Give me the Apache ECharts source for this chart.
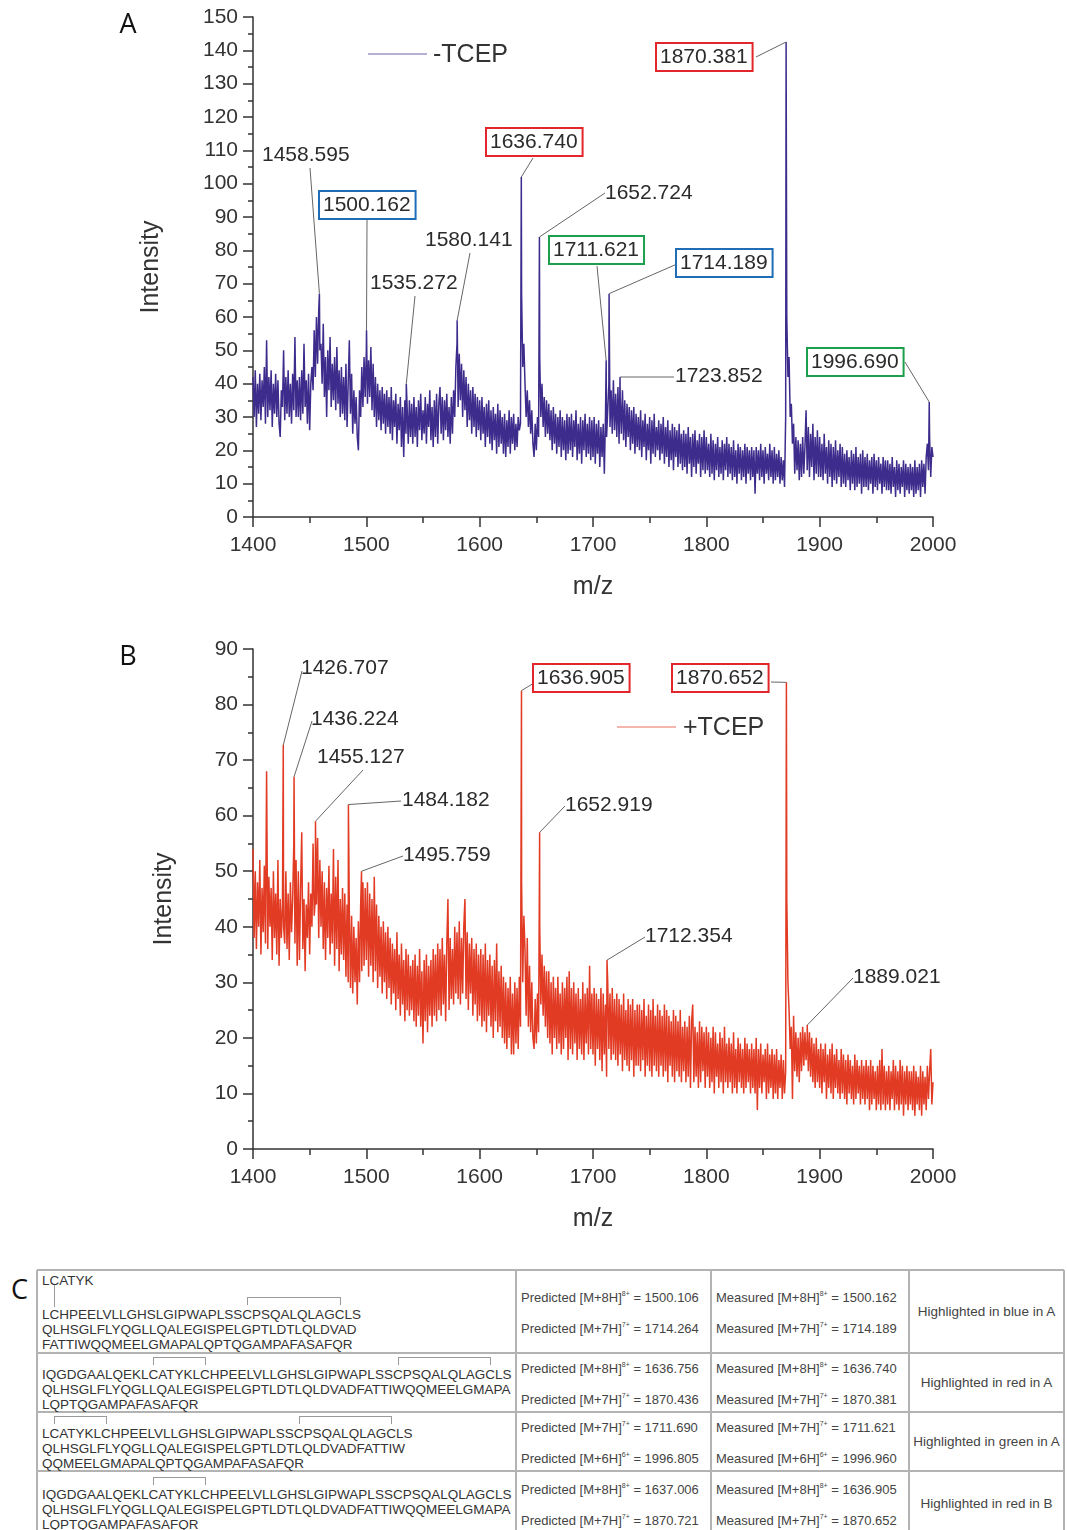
<!DOCTYPE html>
<html>
<head>
<meta charset="utf-8">
<script src="https://cdn.jsdelivr.net/npm/echarts@6.0.0/dist/echarts.min.js"></script>
<style>
  html, body { margin: 0; padding: 0; background: #fff; }
  body { width: 1067px; height: 1530px; position: relative; overflow: hidden;
         font-family: "Liberation Sans", Arial, sans-serif; }
  #chart { position: absolute; left: 0; top: 0; width: 1067px; height: 1260px; }
  .tline { position: absolute; white-space: nowrap; font-size: 13.5px; line-height: 15px; color: #333; }
  .hl { position: absolute; background: #b3b3b3; }
  .br { position: absolute; border: 1px solid #9a9a9a; border-bottom: none; box-sizing: border-box; }
  .lk { position: absolute; border-left: 1px solid #9a9a9a; width: 0; }
  .sup { font-size: 7px; position: relative; top: -6px; }
  .note { position: absolute; text-align: center; font-size: 13.5px; line-height: 15px; color: #333; }
  #labelC { position: absolute; left: 11px; top: 1270px; font-family: "Open Sans", sans-serif; font-size: 27px; color: #111; }
</style>
</head>
<body>
<div id="chart"></div>
<div id="labelC">C</div>
<div id="tableC"></div>
<script>
// ===================== DATA =====================
const MZ_START = 1400;
const MZ_STEP = 1;

// Panel A (-TCEP) trace, one row = 20 m/z
const intensityA = [
  42,30,44,27,40,31,43,29,41,33,45,28,53,30,42,32,44,27,40,31,
  43,30,41,28,24,38,33,50,29,42,31,44,30,40,28,43,32,54,30,41,
  30,42,29,44,31,52,33,41,28,43,26,40,45,38,56,42,60,46,62,50,
  52,40,58,36,48,30,50,38,54,33,46,35,48,32,51,34,44,30,45,31,
  42,29,46,27,40,53,31,43,25,38,28,36,24,20,38,30,45,33,48,36,
  50,34,47,36,51,32,46,30,42,27,40,29,38,26,39,28,37,25,38,27,
  36,25,39,23,35,27,37,22,34,26,36,21,33,18,35,25,33,22,35,24,
  34,22,36,24,33,21,35,26,37,23,32,25,36,22,34,27,38,23,33,21,
  35,24,37,22,34,39,25,36,23,35,26,37,24,33,22,36,25,38,30,45,
  52,33,49,35,46,30,44,32,42,27,40,29,38,25,39,27,37,24,36,26,
  35,23,36,25,33,21,34,24,35,22,32,20,33,23,31,19,34,21,32,22,
  30,19,31,18,29,21,32,19,30,22,31,20,28,21,30,26,28,67,45,52,
  40,30,38,27,35,25,32,22,18,28,20,30,24,48,30,40,27,36,24,35,
  25,34,23,32,20,33,22,31,19,30,21,32,18,30,20,29,17,31,19,30,
  20,31,18,29,21,32,17,28,19,30,16,29,20,31,18,28,19,30,17,29,
  18,30,16,28,19,29,15,27,18,28,13,30,24,32,40,27,38,25,41,26,
  37,24,39,22,36,25,38,23,35,21,34,24,33,20,32,22,33,19,31,21,
  30,20,32,18,29,21,31,17,28,20,30,16,29,19,31,18,27,20,29,17,
  28,19,30,16,27,18,29,15,26,17,28,14,27,18,26,15,28,16,25,14,
  26,15,25,13,27,16,24,12,25,15,26,13,23,16,25,12,24,14,26,13,
  24,14,22,12,25,13,23,11,22,14,24,12,21,13,23,11,22,14,24,12,
  22,13,21,11,23,12,20,10,22,13,21,11,20,12,22,10,21,13,20,11,
  21,12,20,7,21,13,20,11,22,12,20,10,21,13,19,11,22,12,20,10,
  21,11,19,12,20,10,18,11,17,9,30,60,42,48,30,34,22,28,13,24,
  14,23,11,22,12,24,13,21,32,14,27,12,25,15,28,11,24,13,26,12,
  24,12,22,11,25,13,21,10,23,12,22,9,21,11,23,10,20,12,22,9,
  21,10,19,9,20,11,18,8,20,10,19,8,21,9,18,10,19,7,20,9,
  18,9,19,8,17,10,18,7,19,9,17,8,18,10,16,7,18,9,17,8,
  17,8,16,7,18,9,15,6,17,8,16,7,15,9,17,6,16,8,15,7,
  16,8,15,6,17,7,15,8,16,6,17,9,16,7,18,22,14,24,12,21,
  18
];

// Panel B (+TCEP) trace
const intensityB = [
  54,38,50,36,48,40,52,35,47,39,51,37,68,36,49,40,47,34,50,38,
  46,35,52,33,45,38,44,40,37,50,36,46,34,48,39,45,55,37,52,33,
  50,34,47,57,36,45,32,44,38,48,35,46,40,55,42,45,44,56,38,52,
  40,50,36,48,34,47,38,51,35,46,37,54,33,49,36,52,32,45,35,47,
  34,46,31,44,30,43,29,42,28,40,30,38,26,41,30,44,32,48,33,47,
  34,48,31,46,33,45,30,49,32,44,29,42,31,40,28,41,30,39,27,40,
  29,38,26,37,28,36,25,39,27,35,24,37,26,34,23,36,25,35,24,33,
  25,34,23,35,22,33,24,36,22,32,19,34,23,35,21,33,24,34,22,36,
  24,35,23,37,25,36,24,38,26,35,23,37,45,25,38,27,36,26,40,28,
  39,27,41,26,38,28,40,45,27,39,25,37,28,38,24,36,26,37,23,35,
  24,36,22,35,23,37,21,34,24,35,22,33,20,34,23,37,21,32,22,33,
  20,31,19,30,18,29,20,31,17,28,17,30,19,29,18,31,22,48,30,42,
  36,24,38,22,33,21,30,20,18,27,19,28,21,40,26,35,24,33,22,32,
  20,32,19,30,17,31,20,29,18,31,19,28,17,30,18,29,20,31,16,32,
  18,29,17,30,19,28,16,29,18,27,17,30,16,28,19,29,17,33,18,28,
  17,29,15,28,18,27,16,29,14,28,17,26,13,30,18,28,16,29,17,27,
  16,28,15,27,17,26,14,28,16,25,15,27,14,26,16,27,13,25,15,26,
  15,26,14,25,16,27,13,24,15,26,14,25,13,27,15,24,14,26,13,25,
  15,24,13,26,14,25,12,24,15,23,13,25,12,24,14,23,13,25,12,22,
  14,23,12,22,13,24,11,23,26,12,22,13,21,11,23,12,22,14,21,11,
  22,13,21,11,20,12,22,10,21,13,19,11,21,12,20,10,22,12,19,11,
  20,12,19,10,21,11,18,10,20,12,19,11,18,10,20,11,19,12,18,10,
  19,11,18,10,20,7,18,11,19,10,17,12,18,9,19,10,17,11,18,9,
  17,10,18,9,16,11,17,9,16,10,14,45,30,25,18,22,9,24,14,21,
  13,20,12,21,14,22,15,21,16,20,14,21,13,20,12,19,11,20,12,18,
  11,19,10,18,12,19,9,17,11,18,10,19,9,17,11,18,10,16,9,18,
  10,17,9,16,8,17,10,16,9,15,8,17,9,16,10,15,8,16,9,15,
  8,16,9,15,7,16,8,15,9,14,7,15,8,16,7,18,8,15,7,14,
  8,15,7,14,9,16,7,15,8,14,7,16,8,15,6,14,8,15,7,14,
  8,14,7,15,6,14,8,13,7,15,6,14,8,13,7,15,9,14,18,8,
  12
];

// Labelled peaks [m/z, intensity]
const peaksA = [
  [1458.595, 67], [1500.162, 56], [1535.272, 40], [1580.141, 59], [1636.740, 102],
  [1652.724, 84], [1711.621, 47], [1714.189, 67], [1723.852, 42], [1870.381, 142.5],
  [1996.690, 34.5]
];
const peaksB = [
  [1426.707, 72.7], [1436.224, 67], [1455.127, 59], [1484.182, 62], [1495.759, 50],
  [1636.905, 82.5], [1652.919, 57], [1712.354, 34], [1870.652, 84], [1889.021, 22.3]
];
// which isoform (table C row) each labelled peak is highlighted for
const highlightA = ['', 'blue', '', '', 'red', '', 'green', 'blue', '', 'red', 'green'];
const highlightB = ['', '', '', '', '', 'red', '', '', 'red', ''];

const seriesNames = ['-TCEP', '+TCEP'];
const axisNames = { x: 'm/z', y: 'Intensity' };
const yMaxA = 150, yMaxB = 90, xMin = 1400, xMax = 2000;

// Table C
const seqRows = [
  ['LCATYK', 'LCHPEELVLLGHSLGIPWAPLSSCPSQALQLAGCLS', 'QLHSGLFLYQGLLQALEGISPELGPTLDTLQLDVAD', 'FATTIWQQMEELGMAPALQPTQGAMPAFASAFQR'],
  ['IQGDGAALQEKLCATYKLCHPEELVLLGHSLGIPWAPLSSCPSQALQLAGCLS', 'QLHSGLFLYQGLLQALEGISPELGPTLDTLQLDVADFATTIWQQMEELGMAPA', 'LQPTQGAMPAFASAFQR'],
  ['LCATYKLCHPEELVLLGHSLGIPWAPLSSCPSQALQLAGCLS', 'QLHSGLFLYQGLLQALEGISPELGPTLDTLQLDVADFATTIW', 'QQMEELGMAPALQPTQGAMPAFASAFQR'],
  ['IQGDGAALQEKLCATYKLCHPEELVLLGHSLGIPWAPLSSCPSQALQLAGCLS', 'QLHSGLFLYQGLLQALEGISPELGPTLDTLQLDVADFATTIWQQMEELGMAPA', 'LQPTQGAMPAFASAFQR']
];
// disulfide bonds: [[line, residueIndex], [line, residueIndex]]
const bonds = [
  [[[0, 1], [1, 1]], [[1, 23], [1, 33]]],
  [[[0, 12], [0, 18]], [[0, 40], [0, 50]]],
  [[[0, 1], [0, 7]], [[0, 29], [0, 39]]],
  [[[0, 12], [0, 18]]]
];
const predicted = [
  [[8, '1500.106'], [7, '1714.264']],
  [[8, '1636.756'], [7, '1870.436']],
  [[7, '1711.690'], [6, '1996.805']],
  [[8, '1637.006'], [7, '1870.721']]
];
const measured = [
  [[8, '1500.162'], [7, '1714.189']],
  [[8, '1636.740'], [7, '1870.381']],
  [[7, '1711.621'], [6, '1996.960']],
  [[8, '1636.905'], [7, '1870.652']]
];
const notes = ['Highlighted in blue in A', 'Highlighted in red in A', 'Highlighted in green in A', 'Highlighted in red in B'];

// ===================== LAYOUT / STYLE =====================
const FONT = '"Liberation Sans", Arial, sans-serif';
const COLOR_A = '#3e2c8c';
const COLOR_B = '#e23b24';
const TRACE_WIDTH = 1.5;
const BOX_COLORS = { red: '#e3262b', blue: '#1f6db4', green: '#1d9e4c' };
// label text anchor (tx,ty) and leader start (ax,ay), pixels
const LABEL_LAYOUT_A = [
  { tx: 262, ty: 155, ax: 310, ay: 168 },
  { tx: 320, ty: 205, ax: 367, ay: 220 },
  { tx: 370, ty: 283, ax: 415, ay: 296 },
  { tx: 425, ty: 240, ax: 470, ay: 253 },
  { tx: 487, ty: 142, ax: 533, ay: 158 },
  { tx: 605, ty: 193, ax: 605, ay: 193 },
  { tx: 550, ty: 250, ax: 597, ay: 266 },
  { tx: 677, ty: 263, ax: 677, ay: 264 },
  { tx: 675, ty: 376, ax: 674, ay: 377 },
  { tx: 657, ty: 57, ax: 756, ay: 57 },
  { tx: 808, ty: 362, ax: 905, ay: 362 }
];
const LABEL_LAYOUT_B = [
  { tx: 301, ty: 668, ax: 302, ay: 671 },
  { tx: 311, ty: 719, ax: 312, ay: 721 },
  { tx: 317, ty: 757, ax: 363, ay: 770 },
  { tx: 402, ty: 800, ax: 401, ay: 801 },
  { tx: 403, ty: 855, ax: 403, ay: 856 },
  { tx: 534, ty: 678, ax: 534, ay: 683 },
  { tx: 565, ty: 805, ax: 565, ay: 806 },
  { tx: 645, ty: 936, ax: 645, ay: 937 },
  { tx: 673, ty: 678, ax: 771, ay: 682 },
  { tx: 853, ty: 977, ax: 853, ay: 978 }
];
// legend keys: line from x1 to x2 at y, text at tx
const LEGEND_LAYOUT = [
  { x1: 368, x2: 427, y: 54, tx: 433 },
  { x1: 617, x2: 676, y: 727, tx: 683 }
];

function buildTrace(values, peaks) {
  const pts = values.map((v, i) => [MZ_START + i * MZ_STEP, v]);
  return pts.concat(peaks.map(p => [p[0], p[1]])).sort((a, b) => a[0] - b[0]);
}

const chart = echarts.init(document.getElementById('chart'), null, { renderer: 'canvas' });

function xAxisDef(gi) {
  return {
    gridIndex: gi, type: 'value', min: xMin, max: xMax, interval: 100,
    name: axisNames.x, nameLocation: 'middle', nameGap: 58,
    nameTextStyle: { fontSize: 25, color: '#333', fontFamily: FONT },
    axisLine: { show: true, onZero: false, lineStyle: { color: '#333', width: 1.5 } },
    axisTick: { show: true, inside: false, length: 10, lineStyle: { color: '#333', width: 1.5 } },
    minorTick: { show: true, splitNumber: 2, length: 6, lineStyle: { color: '#333', width: 1.5 } },
    axisLabel: { fontSize: 21, color: '#333', fontFamily: FONT, margin: 18, formatter: v => String(v) },
    splitLine: { show: false }, minorSplitLine: { show: false }
  };
}
function yAxisDef(gi, max, gap) {
  return {
    gridIndex: gi, type: 'value', min: 0, max: max, interval: 10,
    name: axisNames.y, nameLocation: 'middle', nameGap: gap,
    nameTextStyle: { fontSize: 25, color: '#333', fontFamily: FONT },
    axisLine: { show: true, onZero: false, lineStyle: { color: '#333', width: 1.5 } },
    axisTick: { show: true, inside: false, length: 10, lineStyle: { color: '#333', width: 1.5 } },
    minorTick: { show: true, splitNumber: 2, length: 5, lineStyle: { color: '#333', width: 1.5 } },
    axisLabel: { fontSize: 21, color: '#333', fontFamily: FONT, margin: 15, formatter: v => String(v) },
    splitLine: { show: false }, minorSplitLine: { show: false }
  };
}

const option = {
  animation: false,
  backgroundColor: '#fff',
  grid: [
    { left: 253, top: 17, width: 680, height: 500, outerBoundsMode: 'none', containLabel: false },
    { left: 253, top: 649, width: 680, height: 500, outerBoundsMode: 'none', containLabel: false }
  ],
  xAxis: [xAxisDef(0), xAxisDef(1)],
  yAxis: [yAxisDef(0, yMaxA, 89), yAxisDef(1, yMaxB, 76)],
  series: [
    { name: seriesNames[0], type: 'line', xAxisIndex: 0, yAxisIndex: 0, data: buildTrace(intensityA, peaksA),
      symbol: 'none', silent: true, color: COLOR_A, lineStyle: { width: TRACE_WIDTH, color: COLOR_A } },
    { name: seriesNames[1], type: 'line', xAxisIndex: 1, yAxisIndex: 1, data: buildTrace(intensityB, peaksB),
      symbol: 'none', silent: true, color: COLOR_B, lineStyle: { width: TRACE_WIDTH, color: COLOR_B } }
  ]
};
chart.setOption(option);

// peak labels + leader lines
const graphics = [];
function addLabels(peaks, hl, layout, gi) {
  peaks.forEach((p, i) => {
    const L = layout[i];
    const top = chart.convertToPixel({ gridIndex: gi }, [p[0], p[1]]);
    graphics.push({ type: 'line', z: 20, silent: true,
      shape: { x1: L.ax, y1: L.ay, x2: top[0], y2: top[1] },
      style: { stroke: '#666', lineWidth: 1 } });
    const st = { text: p[0].toFixed(3), x: L.tx, y: L.ty, align: 'left', verticalAlign: 'middle',
      font: '21px ' + FONT, fill: '#2b2b2b' };
    if (hl[i]) {
      st.borderColor = BOX_COLORS[hl[i]]; st.borderWidth = 2; st.padding = [3, 4, 2, 3];
      st.backgroundColor = '#fff';
    }
    graphics.push({ type: 'text', z: 21, silent: true, style: st });
  });
}
addLabels(peaksA, highlightA, LABEL_LAYOUT_A, 0);
addLabels(peaksB, highlightB, LABEL_LAYOUT_B, 1);
// legend keys
[COLOR_A, COLOR_B].forEach((c, i) => {
  const L = LEGEND_LAYOUT[i];
  graphics.push({ type: 'line', silent: true, shape: { x1: L.x1, y1: L.y, x2: L.x2, y2: L.y },
    style: { stroke: c, lineWidth: 1, opacity: 0.75 } });
  graphics.push({ type: 'text', silent: true, style: { text: seriesNames[i], x: L.tx, y: L.y + 1,
    align: 'left', verticalAlign: 'middle', font: '25px ' + FONT, fill: '#333' } });
});
graphics.push({ type: 'text', silent: true, style: { text: 'A', x: 128, y: 25, align: 'center', verticalAlign: 'middle', font: '27px "Open Sans", sans-serif', fill: '#111' } });
graphics.push({ type: 'text', silent: true, style: { text: 'B', x: 128, y: 657, align: 'center', verticalAlign: 'middle', font: '27px "Open Sans", sans-serif', fill: '#111' } });
chart.setOption({ graphic: graphics });

// ===================== TABLE C =====================
const COLS = [37, 516, 711, 909, 1064];
const ROWS = [1270, 1353, 1412, 1471, 1536];
const LINE_OFFSETS = [[2.5, 36.5, 51.5, 66.5], [13.8, 28.8, 43.8], [13.8, 28.8, 43.8], [15.8, 30.8, 45.8]];
const T = document.getElementById('tableC');
function add(html) { const d = document.createElement('div'); d.innerHTML = html; const el = d.firstChild; T.appendChild(el); return el; }
const BW = 1.5;
ROWS.forEach(y => add(`<div class="hl" style="left:${COLS[0]}px;top:${y - BW / 2}px;width:${COLS[4] - COLS[0]}px;height:${BW}px"></div>`));
COLS.forEach(x => add(`<div class="hl" style="left:${x - BW / 2}px;top:${ROWS[0]}px;width:${BW}px;height:${ROWS[4] - ROWS[0]}px"></div>`));

function ionText(kind, ion) {
  return `${kind} [M+${ion[0]}H]<span class="sup">${ion[0]}+</span> = ${ion[1]}`;
}
seqRows.forEach((lines, r) => {
  const marks = {};
  bonds[r].forEach(b => b.forEach(([l, i]) => { marks[l + '-' + i] = true; }));
  const lineEls = lines.map((s, l) => {
    let h = '';
    for (let i = 0; i < s.length; i++) h += marks[l + '-' + i] ? `<span data-k="${l}-${i}">${s[i]}</span>` : s[i];
    return add(`<div class="tline" style="left:${COLS[0] + 5}px;top:${ROWS[r] + LINE_OFFSETS[r][l]}px">${h}</div>`);
  });
  const cx = (l, i) => { const sp = lineEls[l].querySelector(`[data-k="${l}-${i}"]`); const rc = sp.getBoundingClientRect(); return rc.left + rc.width / 2; };
  bonds[r].forEach(([a, b]) => {
    const x1 = cx(a[0], a[1]), x2 = cx(b[0], b[1]);
    if (a[0] === b[0]) {
      const top = ROWS[r] + LINE_OFFSETS[r][a[0]] - 9.5;
      add(`<div class="br" style="left:${x1}px;top:${top}px;width:${x2 - x1 + 1}px;height:8px"></div>`);
    } else {
      const y1 = ROWS[r] + LINE_OFFSETS[r][a[0]] + 12.5, y2 = ROWS[r] + LINE_OFFSETS[r][b[0]];
      add(`<div class="lk" style="left:${x1}px;top:${y1}px;height:${y2 - y1}px"></div>`);
    }
  });
  const mid = (ROWS[r] + ROWS[r + 1]) / 2 + 1;
  [0, 1].forEach(k => {
    const y = mid + (k === 0 ? -15.5 : 15.5) - 7.5;
    add(`<div class="tline" style="left:${COLS[1] + 5}px;top:${y}px;font-size:13px;color:#444">${ionText('Predicted', predicted[r][k])}</div>`);
    add(`<div class="tline" style="left:${COLS[2] + 5}px;top:${y}px;font-size:13px;color:#444">${ionText('Measured', measured[r][k])}</div>`);
  });
  add(`<div class="note" style="left:${COLS[3]}px;width:${COLS[4] - COLS[3]}px;top:${mid - 8.5}px;color:#444">${notes[r]}</div>`);
});
</script>
</body>
</html>
